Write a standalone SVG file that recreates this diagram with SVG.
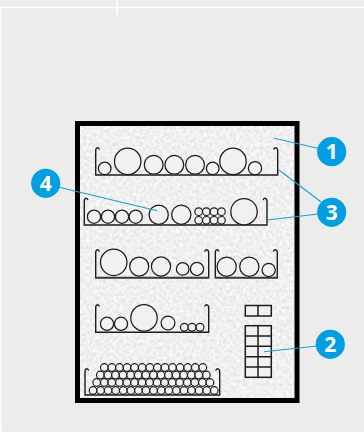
<svg xmlns="http://www.w3.org/2000/svg" width="364" height="432" viewBox="0 0 364 432">
<style>
.b{fill:none;stroke:#1c1c1c;stroke-width:1.4}
.c{fill:#f1f1f1;stroke:#1c1c1c;stroke-width:1.25}
.s{fill:#f1f1f1;stroke:#1c1c1c;stroke-width:1.2}
.t{fill:#f1f1f1;stroke:#1c1c1c;stroke-width:1.5}
.l{stroke:#1a9fd8;stroke-width:1.1;fill:none}
.d{fill:#009fe3}
.n{fill:#fff;font:700 21px "Open Sans","Liberation Sans",sans-serif;text-anchor:middle}
</style>
<defs>
<filter id="noise" x="0" y="0" width="100%" height="100%" color-interpolation-filters="sRGB">
<feTurbulence type="fractalNoise" baseFrequency="0.3" numOctaves="3" seed="7"/>
<feColorMatrix type="matrix" values="0.17 0 0 0 0.855 0.17 0 0 0 0.855 0.17 0 0 0 0.855 0 0 0 0 1"/>
</filter>
</defs>
<rect width="364" height="432" fill="#ecedeb"/>
<rect x="0" y="431" width="364" height="1" fill="#eeeeee"/>
<path d="M0 7.5H364M117 0V15.5M0.5 8V432" stroke="#fff" stroke-width="1.6" fill="none"/>
<g id="cabinet">
<rect x="77.5" y="123.5" width="219.5" height="277" filter="url(#noise)"/>
<rect x="77.5" y="123.5" width="219.5" height="277" fill="none" stroke="#000" stroke-width="5"/>
</g>
<g id="shelf-1">
<path class="b" d="M99.5 149.5C98 147 95.7 147 95.7 151V175H277.7V151C277.7 147 275 147 273.5 149.5"/>
<circle class="c" cx="104.7" cy="168.4" r="6.3"/><circle class="c" cx="127.7" cy="161.4" r="13.2"/><circle class="c" cx="153.7" cy="164.8" r="9.4"/><circle class="c" cx="174.3" cy="164.8" r="9.4"/><circle class="c" cx="195" cy="164.8" r="9.4"/><circle class="c" cx="212.7" cy="168.4" r="6.3"/><circle class="c" cx="233" cy="161.4" r="13.2"/><circle class="c" cx="255" cy="168.2" r="6.6"/>
</g>
<g id="shelf-2">
<path class="b" d="M88 200C86.6 197.5 84.3 197.5 84.3 201.5V225H267V201.5C267 197.5 264.4 197.5 263 200"/>
<circle class="c" cx="94" cy="216.7" r="6.6"/><circle class="c" cx="108" cy="216.7" r="6.6"/><circle class="c" cx="122" cy="216.7" r="6.6"/><circle class="c" cx="135.7" cy="216.7" r="6.6"/><circle class="c" cx="158.7" cy="214.7" r="9.6"/><circle class="c" cx="181.3" cy="214.7" r="9.6"/>
<circle class="s" cx="198.7" cy="211.7" r="3.8"/><circle class="s" cx="206.3" cy="211.7" r="3.8"/><circle class="s" cx="214" cy="211.7" r="3.8"/><circle class="s" cx="221.5" cy="211.7" r="3.8"/><circle class="s" cx="198.7" cy="220.3" r="3.8"/><circle class="s" cx="206.3" cy="220.3" r="3.8"/><circle class="s" cx="214" cy="220.3" r="3.8"/><circle class="s" cx="221.5" cy="220.3" r="3.8"/>
<circle class="c" cx="244" cy="211.7" r="13.2"/>
</g>
<g id="shelf-3a">
<path class="b" d="M99.5 251.5C98 249 95.7 249 95.7 253V277.7H208.7V253C208.7 249 206 249 204.5 251.5"/>
<path d="M95.7 277.7H208.7" stroke="#3a3a3a" stroke-width="1.8"/>
<circle class="c" cx="113.7" cy="262.3" r="13.2"/><circle class="c" cx="139.2" cy="266.5" r="9.5"/><circle class="c" cx="161" cy="266.5" r="9.6"/><circle class="c" cx="182.7" cy="268.9" r="6.3"/><circle class="c" cx="197" cy="268.9" r="6.6"/>
</g>
<g id="shelf-3b">
<path class="b" d="M219 251.5C217.6 249 215.3 249 215.3 253V277.7H277.3V253C277.3 249 274.7 249 273.2 251.5"/>
<path d="M215.3 277.7H277.3" stroke="#3a3a3a" stroke-width="1.8"/>
<circle class="c" cx="226.7" cy="266.7" r="9.6"/><circle class="c" cx="249.3" cy="266.7" r="9.6"/><circle class="c" cx="268.7" cy="270" r="6.6"/>
</g>
<g id="shelf-4">
<path class="b" d="M99.5 306.5C98 304 95.7 304 95.7 308V332.3H208.7V308C208.7 304 206 304 204.5 306.5"/>
<circle class="c" cx="107" cy="323.8" r="6.6"/><circle class="c" cx="121" cy="323.8" r="6.6"/><circle class="c" cx="144" cy="317.9" r="13.2"/><circle class="c" cx="168" cy="323" r="6.9"/><circle class="s" cx="184.3" cy="327.2" r="3.9"/><circle class="s" cx="192" cy="327.2" r="3.9"/><circle class="s" cx="200" cy="327.2" r="3.9"/>
</g>
<g id="shelf-5">
<path class="b" d="M88.8 370.5C87.3 368 85 368 85 372V395H219.7V372C219.7 368 217 368 215.6 370.5"/>
<g class="s">
<circle cx="104.3" cy="367.5" r="3.8"/><circle cx="111.9" cy="367.5" r="3.8"/><circle cx="119.5" cy="367.5" r="3.8"/><circle cx="127" cy="367.5" r="3.8"/><circle cx="134.6" cy="367.5" r="3.8"/><circle cx="142.2" cy="367.5" r="3.8"/><circle cx="149.8" cy="367.5" r="3.8"/><circle cx="157.4" cy="367.5" r="3.8"/><circle cx="165" cy="367.5" r="3.8"/><circle cx="172.5" cy="367.5" r="3.8"/><circle cx="180.1" cy="367.5" r="3.8"/><circle cx="187.7" cy="367.5" r="3.8"/><circle cx="195.3" cy="367.5" r="3.8"/><circle cx="202.8" cy="367.5" r="3.8"/>
<circle cx="100.3" cy="375" r="3.8"/><circle cx="107.9" cy="375" r="3.8"/><circle cx="115.5" cy="375" r="3.8"/><circle cx="123" cy="375" r="3.8"/><circle cx="130.6" cy="375" r="3.8"/><circle cx="138.2" cy="375" r="3.8"/><circle cx="145.8" cy="375" r="3.8"/><circle cx="153.4" cy="375" r="3.8"/><circle cx="161" cy="375" r="3.8"/><circle cx="168.5" cy="375" r="3.8"/><circle cx="176.1" cy="375" r="3.8"/><circle cx="183.7" cy="375" r="3.8"/><circle cx="191.3" cy="375" r="3.8"/><circle cx="198.8" cy="375" r="3.8"/><circle cx="206.4" cy="375" r="3.8"/>
<circle cx="96.7" cy="382.5" r="3.8"/><circle cx="104.3" cy="382.5" r="3.8"/><circle cx="111.8" cy="382.5" r="3.8"/><circle cx="119.4" cy="382.5" r="3.8"/><circle cx="126.9" cy="382.5" r="3.8"/><circle cx="134.5" cy="382.5" r="3.8"/><circle cx="142" cy="382.5" r="3.8"/><circle cx="149.6" cy="382.5" r="3.8"/><circle cx="157.1" cy="382.5" r="3.8"/><circle cx="164.6" cy="382.5" r="3.8"/><circle cx="172.2" cy="382.5" r="3.8"/><circle cx="179.7" cy="382.5" r="3.8"/><circle cx="187.3" cy="382.5" r="3.8"/><circle cx="194.8" cy="382.5" r="3.8"/><circle cx="202.4" cy="382.5" r="3.8"/><circle cx="210" cy="382.5" r="3.8"/>
<circle cx="93" cy="390.5" r="3.8"/><circle cx="100.6" cy="390.5" r="3.8"/><circle cx="108.2" cy="390.5" r="3.8"/><circle cx="115.7" cy="390.5" r="3.8"/><circle cx="123.3" cy="390.5" r="3.8"/><circle cx="130.9" cy="390.5" r="3.8"/><circle cx="138.5" cy="390.5" r="3.8"/><circle cx="146" cy="390.5" r="3.8"/><circle cx="153.6" cy="390.5" r="3.8"/><circle cx="161.2" cy="390.5" r="3.8"/><circle cx="168.8" cy="390.5" r="3.8"/><circle cx="176.4" cy="390.5" r="3.8"/><circle cx="184" cy="390.5" r="3.8"/><circle cx="191.5" cy="390.5" r="3.8"/><circle cx="199.1" cy="390.5" r="3.8"/><circle cx="206.7" cy="390.5" r="3.8"/><circle cx="214.3" cy="390.5" r="3.8"/>
</g>
</g>
<g id="box-small">
<rect class="t" x="245.3" y="305.5" width="26" height="10.5"/><path class="t" d="M258 305.5V316"/>
</g>
<g id="box-stack">
<rect class="t" x="245.3" y="325.7" width="26" height="51.6"/>
<path class="t" d="M258 325.7V377.3M245.3 336H271.3M245.3 346.3H271.3M245.3 356.7H271.3M245.3 367H271.3"/>
</g>
<g id="connectors">
<path class="l" d="M274.3 138.3L319 148.5"/>
<path class="l" d="M279 170L321 202"/>
<path class="l" d="M267.7 220L318 214"/>
<path class="l" d="M264 351.7L317 346"/>
<path class="l" d="M157.3 210.7L58 187"/>
</g>
<g id="badge-1"><circle class="d" cx="331.7" cy="151.7" r="14.6"/><text class="n" x="331.7" y="159.2">1</text></g>
<g id="badge-2"><circle class="d" cx="330.3" cy="344.3" r="14.6"/><text class="n" x="330.3" y="351.8">2</text></g>
<g id="badge-3"><circle class="d" cx="331.7" cy="212.3" r="14.6"/><text class="n" x="331.7" y="219.8">3</text></g>
<g id="badge-4"><circle class="d" cx="45.7" cy="183.3" r="14.6"/><text class="n" x="45.7" y="190.8">4</text></g>
</svg>
